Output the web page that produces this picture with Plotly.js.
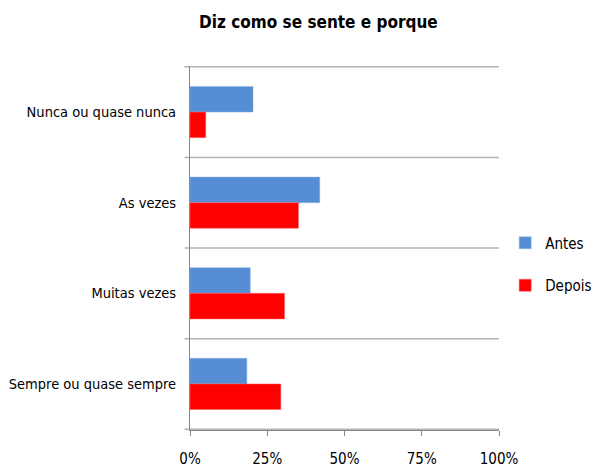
<!DOCTYPE html>
<html><head><meta charset="utf-8">
<script src="https://cdn.plot.ly/plotly-3.0.1.min.js"></script>
<style>html,body{margin:0;padding:0;background:#fff}</style>
</head><body><div id="chart" style="width:610px;height:468px"></div>
<script>
const categories = ["Nunca ou quase nunca", "As vezes", "Muitas vezes", "Sempre ou quase sempre"];
const antes = [20.4, 42.0, 19.5, 18.4];
const depois = [5.1, 35.1, 30.6, 29.4];
const xTicks = [0, 25, 50, 75, 100];
const xTickLabels = ["0%", "25%", "50%", "75%", "100%"];

const font = "DejaVu Sans Condensed, Liberation Sans Narrow, sans-serif";
const traces = [
  {type:'bar', orientation:'h', name:'Antes', y:categories, x:antes, legendgroup:'a',
   marker:{color:'#558ED5', line:{color:'#8DB4E2', width:0.5}}},
  {type:'bar', orientation:'h', name:'Depois', y:categories, x:depois, legendgroup:'b',
   marker:{color:'#FF0000', line:{color:'#FF6060', width:0.5}}}
];
const bounds = [];
for (let i = 0; i <= categories.length; i++) bounds.push(i - 0.5);
const shapes = bounds.map(b => ({type:'line', xref:'paper', yref:'y', x0:-0.018, x1:1, y0:b, y1:b,
  line:{color:'#B3B3B3', width:1.5}, layer:'below'}));
const layout = {
  width:610, height:468,
  margin:{l:189.5, r:110.5, t:66, b:38},
  paper_bgcolor:'#fff', plot_bgcolor:'#fff',
  title:{text:'<b>Diz como se sente e porque</b>', x:0.522, xanchor:'center', y:0.953, yanchor:'middle',
    font:{family:font, size:17, color:'#000'}},
  barmode:'group', bargap:0.435, bargroupgap:0,
  xaxis:{range:[0,100], tickvals:xTicks, ticktext:xTickLabels, showgrid:false, zeroline:false,
    showline:true, linecolor:'#868686', linewidth:1, ticks:'outside', ticklen:5, tickcolor:'#868686',
    ticklabelstandoff:10, tickfont:{family:font, size:15, color:'#000'}},
  yaxis:{type:'category', autorange:'reversed', showgrid:false, zeroline:false,
    showline:true, linecolor:'#868686', linewidth:1, ticks:'', ticklabelstandoff:10,
    tickfont:{family:font, size:14.5, color:'#000'}},
  shapes:shapes,
  showlegend:true,
  legend:{x:1.02, xanchor:'left', y:0.456, yanchor:'middle', tracegroupgap:20,
    font:{family:font, size:15, color:'#000'}, itemwidth:30, borderwidth:0},
};
Plotly.newPlot('chart', traces, layout, {displayModeBar:false, staticPlot:true});
</script></body></html>
